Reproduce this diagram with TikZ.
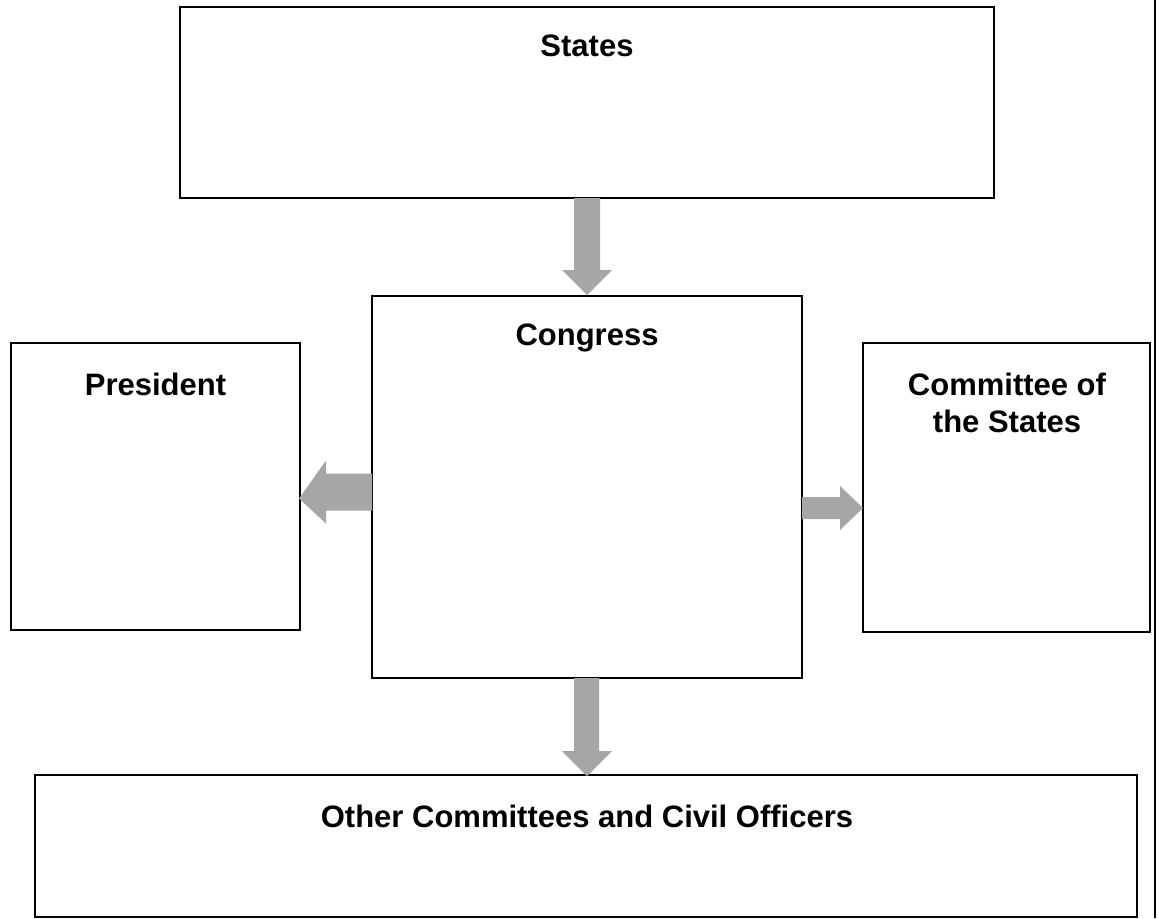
\documentclass[tikz,border=0pt]{standalone}
\usepackage{fontspec}
\setmainfont{Liberation Sans}
\usetikzlibrary{calc}
\begin{document}
\begin{tikzpicture}[x=1pt,y=-1pt,
  box/.style={draw=black,line width=2pt,fill=white,inner sep=0pt,outer sep=0pt},
  lbl/.style={font=\fontsize{31}{37}\selectfont\bfseries,anchor=base,align=center,inner sep=0pt},
  garrow/.style={fill=black!35,draw=none}]
\useasboundingbox (0,0) rectangle (1158,918);
\fill[white] (0,0) rectangle (1158,918);
% boxes
\node[box,minimum width=814pt,minimum height=191pt] (states) at (587,102.5) {};
\node[box,minimum width=430pt,minimum height=382pt] (congress) at (587,487) {};
\node[box,minimum width=289pt,minimum height=287pt] (president) at (155.5,486.5) {};
\node[box,minimum width=287pt,minimum height=289pt] (committee) at (1006.5,487.5) {};
\node[box,minimum width=1102pt,minimum height=142pt] (other) at (586,846) {};
% labels
\node[lbl] (tstates) at (587,56) {States};
\node[lbl] (tcongress) at (587,345) {Congress};
\node[lbl] (tpresident) at (155.5,395) {President};
\node[lbl] (tcommittee) at (1007,432) {Committee of\\the States};
\node[lbl] (tother) at (587,827) {Other Committees and Civil Officers};
% right edge line
\coordinate (etop) at (1155,0);
\coordinate (ebot) at (1155,918);
\draw[line width=2.5pt] (etop) -- (ebot);
% arrows
\fill[garrow] ($(states.south)+(-13,0)$) -- ($(states.south)+(13,0)$) -- ++(0,72) -- ++(12,0)
  -- ($(congress.north)+(0,-1)$) -- ($(states.south)+(-25,72)$) -- ++(12,0) -- cycle;
\fill[garrow] ($(congress.south)+(-13,0)$) -- ($(congress.south)+(12,0)$) -- ++(0,73) -- ++(13,0)
  -- ($(other.north)+(1,1)$) -- ($(congress.south)+(-25,73)$) -- ++(12,0) -- cycle;
\fill[garrow] ($(congress.west)+(0,-1)$) -- ++(0,-12.5) -- ++(-46,0) -- ++(0,-13)
  -- ($(president.east)+(-1,12)$) -- ($(congress.west)+(-46,36.5)$) -- ++(0,-13) -- ++(46,0) -- cycle;
\fill[garrow] ($(congress.east)+(0,10)$) -- ++(38,0) -- ++(0,-11) -- ($(committee.west)+(0,20.5)$)
  -- ($(congress.east)+(38,43)$) -- ++(0,-11) -- ++(-38,0) -- cycle;
\end{tikzpicture}
\end{document}
